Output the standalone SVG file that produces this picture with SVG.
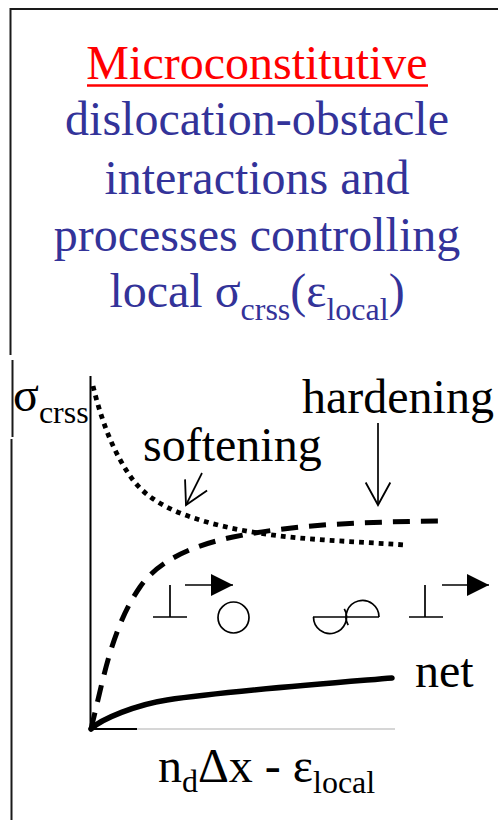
<svg xmlns="http://www.w3.org/2000/svg" width="498" height="820" viewBox="0 0 498 820">
  <style>
    .serif { font-family: "Liberation Serif", "Times New Roman", serif; }
    .title { font-size: 48px; fill: #333399; }
    .lbl { font-size: 48px; fill: #000; }
    .frame { stroke: #1a1a1a; stroke-width: 2; fill: none; }
    .thin { stroke: #000; stroke-width: 1.7; fill: none; }
    .axis { stroke: #000; stroke-width: 2; fill: none; }
  </style>
  <defs>
    <marker id="solidHead" markerUnits="userSpaceOnUse" markerWidth="22" markerHeight="22" viewBox="0 0 20 20" refX="20" refY="10" orient="auto">
      <path d="M0,0 L20,10 L0,20 Z" fill="#000"/>
    </marker>
    <marker id="openHead" markerUnits="userSpaceOnUse" markerWidth="30" markerHeight="30" viewBox="-24 -14 28 28" refX="0" refY="0" orient="auto">
      <path d="M-21,-11.5 L0,0 L-21,11.5" fill="none" stroke="#000" stroke-width="1.7"/>
    </marker>
  </defs>

  <rect width="498" height="820" fill="#fff"/>

  <!-- outer frame -->
  <g id="frame">
    <path class="frame" d="M10.5,355 V9 H498"/>
    <path class="frame" d="M12.5,360 V437"/>
    <path class="frame" d="M11.5,439 V820"/>
  </g>

  <!-- heading -->
  <g id="heading" class="serif" text-anchor="middle">
    <text x="257" y="79" font-size="48" fill="#ff0000">Microconstitutive</text>
    <line x1="87" y1="85.5" x2="428" y2="85.5" stroke="#ff0000" stroke-width="2.5"/>
    <text class="title" x="257" y="135">dislocation-obstacle</text>
    <text class="title" x="257" y="194">interactions and</text>
    <text class="title" x="257" y="251">processes controlling</text>
    <text class="title" x="257" y="307">local σ<tspan font-size="32" dy="13">crss</tspan><tspan dy="-13">(ε</tspan><tspan font-size="32" dy="13">local</tspan><tspan dy="-13">)</tspan></text>
  </g>

  <!-- axes -->
  <g id="axes">
    <line class="axis" x1="90.5" y1="376" x2="90.5" y2="729"/>
    <line x1="137" y1="729" x2="395" y2="729" stroke="#c8c8c8" stroke-width="1.5"/>
    <line class="axis" x1="90" y1="729" x2="137" y2="729"/>
  </g>

  <!-- curves -->
  <g id="curves" fill="none" stroke="#000">
    <path id="softening-curve" stroke-width="4.8" stroke-dasharray="4.8 5"
          d="M93,386 C101,419 113,453 133,480 C149,501 175,512.5 200,520 C265,540 337,540 405,545"/>
    <path id="hardening-curve" stroke-width="5" stroke-dasharray="17 11"
          d="M91,729 C103,681 111.5,628 140,587 C160,558 199,544 233,537 C302,523 372,522 442,521"/>
    <path id="net-curve" stroke-width="5.5" stroke-linecap="round"
          d="M91,729 C101,719 137,704.5 167,700 C227,691 332,683 392,678"/>
  </g>

  <!-- labels and pointers -->
  <g id="labels" class="serif">
    <text class="lbl" x="13" y="411">σ<tspan font-size="32" dy="12">crss</tspan></text>
    <text class="lbl" x="302" y="413">hardening</text>
    <text class="lbl" x="143" y="461" font-size="47">softening</text>
    <text class="lbl" x="415" y="687">net</text>
    <text class="lbl" x="158" y="782">n<tspan font-size="32" dy="10">d</tspan><tspan dy="-10">Δx - ε</tspan><tspan font-size="32" dy="11">local</tspan></text>
  </g>
  <g id="pointers" class="thin">
    <line x1="202" y1="473" x2="186" y2="505" marker-end="url(#openHead)"/>
    <line x1="378" y1="423" x2="378" y2="505" marker-end="url(#openHead)"/>
  </g>

  <!-- dislocation / obstacle sketches -->
  <g id="dislocation-1" class="thin">
    <path d="M170,585 V617 M153,617 H187"/>
    <line x1="185" y1="585" x2="233" y2="585" marker-end="url(#solidHead)"/>
  </g>
  <g id="obstacle">
    <circle class="thin" cx="233.5" cy="617.5" r="15.5"/>
  </g>
  <g id="cut-obstacle" class="thin">
    <path d="M313,617 H379"/>
    <path d="M313.5,617 A16.5,16.5 0 1 0 344.3,608.8"/>
    <path d="M379,617 A16.5,16.5 0 1 0 348.2,625.2"/>
  </g>
  <g id="dislocation-2" class="thin">
    <path d="M425,585 V617 M409,617 H443"/>
    <line x1="442" y1="585" x2="489" y2="585" marker-end="url(#solidHead)"/>
  </g>
</svg>
